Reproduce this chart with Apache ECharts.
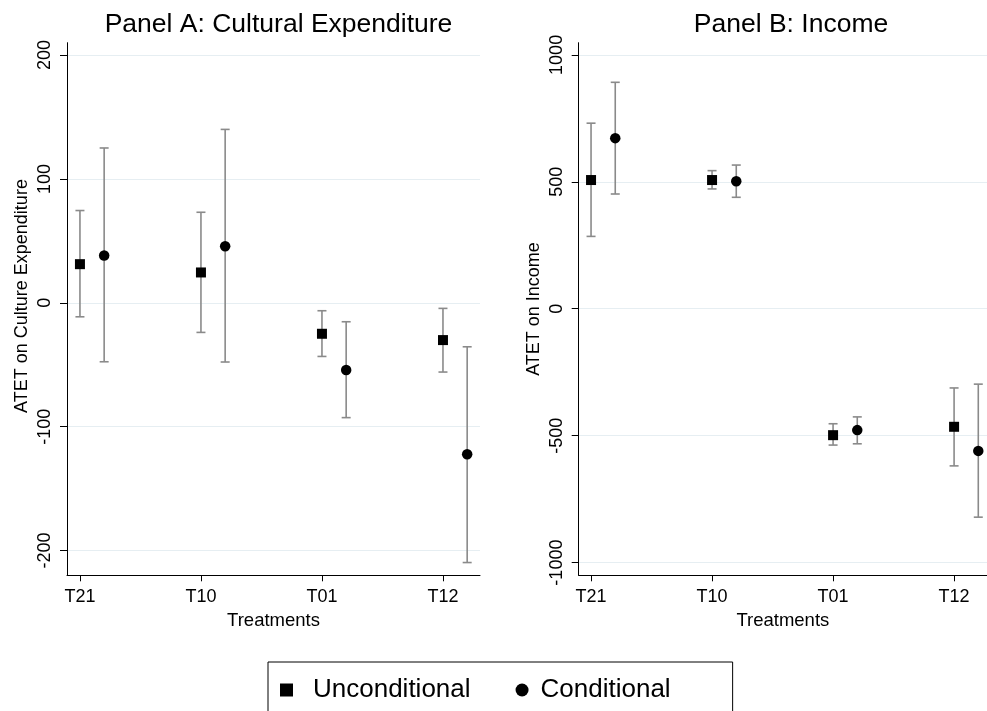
<!DOCTYPE html>
<html>
<head>
<meta charset="utf-8">
<script src="https://cdn.jsdelivr.net/npm/echarts@6/dist/echarts.min.js"></script>
<style>
html,body{margin:0;padding:0;background:#fff;}
#chart{width:987px;height:711px;}
</style>
</head>
<body>
<div id="chart"></div>
<script>
// ---- data ----
const treatments = ['T21', 'T10', 'T01', 'T12'];

const cultureUncond   = [31.2, 24.5, -25.0, -30.1];
const cultureUncondLo = [-11.3, -23.9, -43.3, -55.9];
const cultureUncondHi = [74.5, 73.1, -6.4, -4.5];
const cultureCond     = [38.2, 45.7, -54.3, -122.3];
const cultureCondLo   = [-47.6, -47.8, -92.7, -209.7];
const cultureCondHi   = [125, 140, -15.3, -35.5];

const incomeUncond    = [507, 507, -498, -465];
const incomeUncondLo  = [285, 472, -537, -619];
const incomeUncondHi  = [731, 544, -453, -312];
const incomeCond      = [672, 502, -478, -560];
const incomeCondLo    = [452, 439, -532, -821];
const incomeCondHi    = [892, 566, -426, -297];

const cultureTicks = [-200, -100, 0, 100, 200];
const incomeTicks  = [-1000, -500, 0, 500, 1000];

// ---- chart ----
const FONT = '"Liberation Sans", Arial, Helvetica, sans-serif';
const OFFSET = 0.2;
const tickPos = treatments.map((_, i) => i + 1);

function pts(vals, off) { return vals.map((v, i) => [i + 1 + off, v]); }
function bars(lo, hi, off) { return lo.map((l, i) => [i + 1 + off, l, hi[i]]); }

function errRender(params, api) {
  const x = api.value(0);
  const a = api.coord([x, api.value(1)]);
  const b = api.coord([x, api.value(2)]);
  const w = 4.5;
  const st = { stroke: '#8a8a8a', lineWidth: 1.6 };
  return {
    type: 'group',
    children: [
      { type: 'line', shape: { x1: a[0], y1: a[1], x2: b[0], y2: b[1] }, style: st },
      { type: 'line', shape: { x1: a[0] - w, y1: a[1], x2: a[0] + w, y2: a[1] }, style: st },
      { type: 'line', shape: { x1: b[0] - w, y1: b[1], x2: b[0] + w, y2: b[1] }, style: st }
    ]
  };
}

function xAxis(gi, min, max) {
  return {
    type: 'value', gridIndex: gi, min: min, max: max,
    name: 'Treatments', nameLocation: 'middle', nameGap: 34,
    nameTextStyle: { fontFamily: FONT, fontSize: 18.5, color: '#000' },
    axisLine: { show: true, onZero: false, lineStyle: { color: '#000', width: 1 } },
    axisTick: { show: true, length: 6, customValues: tickPos, lineStyle: { color: '#000' } },
    axisLabel: { customValues: tickPos, margin: 13, fontFamily: FONT, fontSize: 18, color: '#000',
      formatter: v => treatments[Math.round(v) - 1] },
    splitLine: { show: false }
  };
}

function yAxis(gi, min, max, ticks, name, pad) {
  return {
    type: 'value', gridIndex: gi, min: min, max: max,
    name: name, nameLocation: 'middle', nameGap: 36,
    nameTextStyle: { fontFamily: FONT, fontSize: 18, color: '#000', padding: pad },
    axisLine: { show: true, onZero: false, lineStyle: { color: '#000', width: 1 } },
    axisTick: { show: true, length: 7, customValues: ticks, lineStyle: { color: '#000' } },
    axisLabel: { customValues: ticks, rotate: 90, margin: 13, fontFamily: FONT, fontSize: 18, color: '#000',
      formatter: v => String(v) },
    splitLine: { show: true, lineStyle: { color: '#e6eef2', width: 1.2 } }
  };
}

const chart = echarts.init(document.getElementById('chart'), null, { renderer: 'canvas' });
chart.setOption({
  backgroundColor: '#fff',
  animation: false,
  textStyle: { fontFamily: FONT },
  title: [
    { text: 'Panel A: Cultural Expenditure', left: 273.5, textAlign: 'center', top: 6,
      textStyle: { fontFamily: FONT, fontSize: 26.5, fontWeight: 'normal', color: '#000' } },
    { text: 'Panel B: Income', left: 786, textAlign: 'center', top: 6,
      textStyle: { fontFamily: FONT, fontSize: 26.5, fontWeight: 'normal', color: '#000' } }
  ],
  legend: {
    left: 268, top: 662, orient: 'horizontal', selectedMode: false,
    itemWidth: 13, itemHeight: 13, itemGap: 45,
    borderColor: '#000', borderWidth: 1, padding: [15, 62, 9, 12],
    textStyle: { fontFamily: FONT, fontSize: 26, color: '#000' },
    data: [
      { name: 'Unconditional', icon: 'rect', textStyle: { padding: [0, 0, 0, 15] } },
      { name: 'Conditional', icon: 'circle', textStyle: { padding: [0, 0, 0, 7] } }
    ]
  },
  grid: [
    { left: 67, top: 42.7, width: 413, bottom: 135.7, containLabel: false },
    { left: 578.7, top: 42.7, right: 0, bottom: 135.7, containLabel: false }
  ],
  xAxis: [xAxis(0, 0.893, 4.306), xAxis(1, 0.898, 4.272)],
  yAxis: [
    yAxis(0, -220, 210, cultureTicks, 'ATET on Culture Expenditure', [0, 0, 0, 26]),
    yAxis(1, -1050, 1048, incomeTicks, 'ATET on Income', 0)
  ],
  series: [
    { type: 'custom', name: 'ciA1', xAxisIndex: 0, yAxisIndex: 0, renderItem: errRender, data: bars(cultureUncondLo, cultureUncondHi, 0), z: 2, silent: true },
    { type: 'custom', name: 'ciA2', xAxisIndex: 0, yAxisIndex: 0, renderItem: errRender, data: bars(cultureCondLo, cultureCondHi, OFFSET), z: 2, silent: true },
    { type: 'custom', name: 'ciB1', xAxisIndex: 1, yAxisIndex: 1, renderItem: errRender, data: bars(incomeUncondLo, incomeUncondHi, 0), z: 2, silent: true },
    { type: 'custom', name: 'ciB2', xAxisIndex: 1, yAxisIndex: 1, renderItem: errRender, data: bars(incomeCondLo, incomeCondHi, OFFSET), z: 2, silent: true },
    { type: 'scatter', name: 'Unconditional', xAxisIndex: 0, yAxisIndex: 0, symbol: 'rect', symbolSize: 10, itemStyle: { color: '#000', opacity: 1 }, data: pts(cultureUncond, 0), z: 3 },
    { type: 'scatter', name: 'Conditional', xAxisIndex: 0, yAxisIndex: 0, symbol: 'circle', symbolSize: 10.5, itemStyle: { color: '#000', opacity: 1 }, data: pts(cultureCond, OFFSET), z: 3 },
    { type: 'scatter', name: 'Unconditional', xAxisIndex: 1, yAxisIndex: 1, symbol: 'rect', symbolSize: 10, itemStyle: { color: '#000', opacity: 1 }, data: pts(incomeUncond, 0), z: 3 },
    { type: 'scatter', name: 'Conditional', xAxisIndex: 1, yAxisIndex: 1, symbol: 'circle', symbolSize: 10.5, itemStyle: { color: '#000', opacity: 1 }, data: pts(incomeCond, OFFSET), z: 3 }
  ]
});
</script>
</body>
</html>
